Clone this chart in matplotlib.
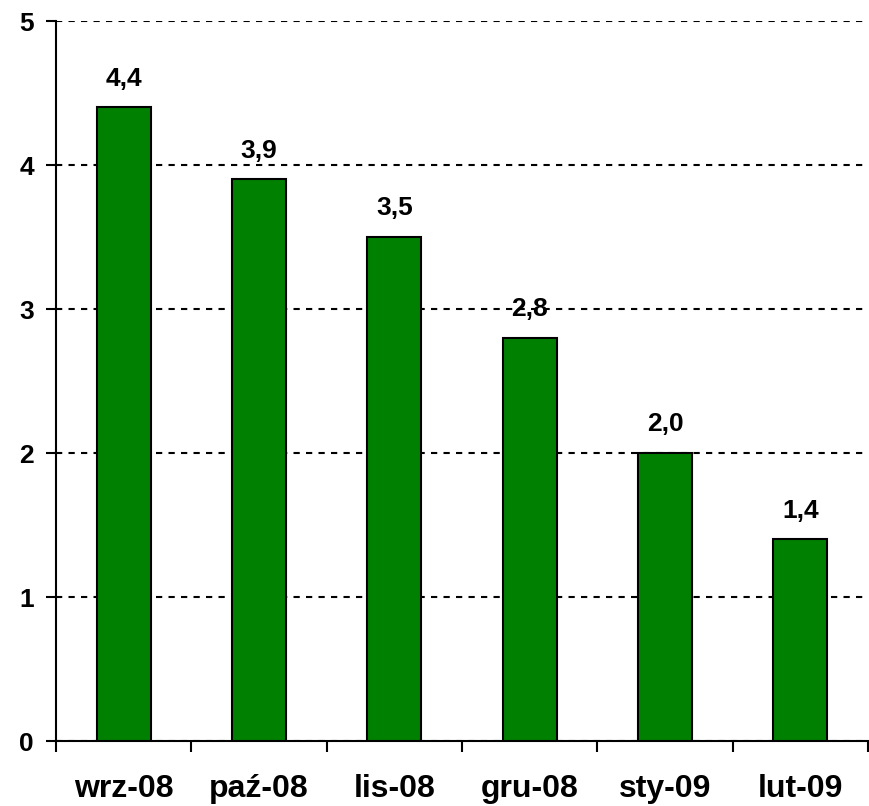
#!/usr/bin/env python3

import matplotlib
matplotlib.use('Agg')
import matplotlib.pyplot as plt
import numpy

# data
months = ['wrz-08', 'paź-08', 'lis-08', 'gru-08', 'sty-09', 'lut-09']
values = [4.4, 3.9, 3.5, 2.8, 2.0, 1.4]
value_labels = ['4,4', '3,9', '3,5', '2,8', '2,0', '1,4']
yticks = [0, 1, 2, 3, 4, 5]

plt.rcParams['font.family'] = ['Liberation Sans', 'DejaVu Sans']
plt.rcParams['font.weight'] = 'bold'

fig = plt.figure(figsize=(8.7, 8.06), dpi=100)
ax = fig.add_axes([0.0644, 0.0806, 0.9333, 0.8933])

pos = numpy.arange(len(months))
ax.bar(pos, values, width=0.4, color='#008000', edgecolor='black',
       linewidth=1.5, zorder=3)

# value labels above bars
for x, v, lab in zip(pos, values, value_labels):
  ax.annotate(lab, (x, v), xytext=(0, 12), textcoords='offset points',
              ha='center', va='bottom', fontsize=19, fontweight='bold')

ax.set_xlim(-0.5, len(months) - 0.5)
ax.set_ylim(0, 5)

# y axis
ax.set_yticks(yticks)
ax.set_yticklabels([str(t) for t in yticks], fontsize=19, fontweight='bold')
ax.tick_params(axis='y', direction='out', length=7, width=1.5, pad=9)
ax.yaxis.grid(True, color='black', linestyle=(0, (3, 3)), linewidth=1.5,
              zorder=0)

# x axis: labels at centres, tick marks at category boundaries
ax.set_xticks(pos)
ax.set_xticklabels(months, fontsize=23, fontweight='bold')
ax.tick_params(axis='x', which='major', length=0, pad=24)
ax.set_xticks(numpy.arange(len(months) + 1) - 0.5, minor=True)
ax.tick_params(axis='x', which='minor', direction='out', length=8, width=1.5)

ax.spines['top'].set_visible(False)
ax.spines['right'].set_visible(False)
ax.spines['left'].set_linewidth(1.5)
ax.spines['bottom'].set_linewidth(1.5)
ax.set_axisbelow(True)

fig.savefig('out.png', dpi=100)
